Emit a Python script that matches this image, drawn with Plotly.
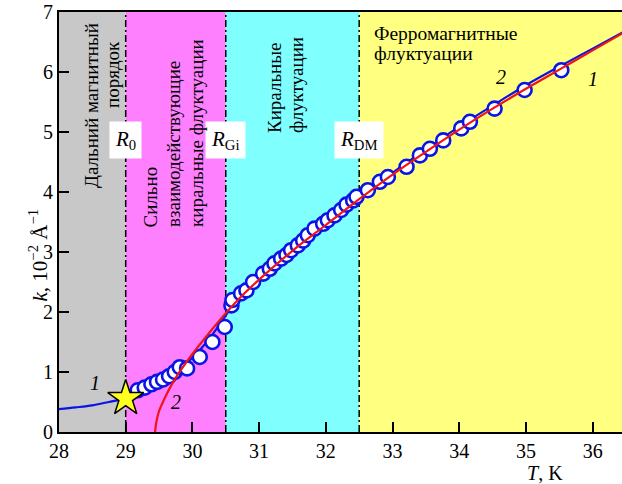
import plotly.graph_objects as go

# ---- data ----
T_points = [29.18, 29.285, 29.385, 29.47, 29.56, 29.65, 29.735, 29.81, 29.92, 30.11, 30.30, 30.485, 30.585,
            30.60, 30.73, 30.81, 30.91, 31.06, 31.16, 31.23, 31.33, 31.41, 31.48, 31.58, 31.66, 31.73, 31.83,
            31.96, 32.03, 32.13, 32.23, 32.31, 32.41, 32.46, 32.63, 32.81, 32.93, 33.21, 33.41, 33.56,
            33.76, 34.03, 34.16, 34.53, 34.98, 35.53]
k_points = [0.695, 0.74, 0.795, 0.835, 0.875, 0.93, 1.0, 1.08, 1.06, 1.25, 1.5, 1.75, 2.11,
            2.20, 2.31, 2.36, 2.50, 2.64, 2.72, 2.81, 2.89, 2.95, 3.03, 3.11, 3.19, 3.28, 3.39,
            3.47, 3.53, 3.61, 3.70, 3.79, 3.86, 3.92, 4.03, 4.17, 4.25, 4.42, 4.61, 4.72,
            4.86, 5.06, 5.17, 5.39, 5.70, 6.03]

T_fit1 = [28.0, 28.25, 28.5, 28.75, 29.0, 29.2, 29.4, 29.6, 29.8, 30.0, 30.2, 30.4, 30.6, 30.8,
          31.0, 31.5, 32.0, 32.5, 33.0, 33.5, 34.0, 34.5, 35.0, 35.5, 36.0, 36.5]
k_fit1 = [0.38, 0.41, 0.445, 0.50, 0.565, 0.66, 0.78, 0.91, 1.06, 1.24, 1.48, 1.78, 2.10, 2.33,
          2.53, 3.03, 3.47, 3.90, 4.32, 4.71, 5.09, 5.44, 5.78, 6.09, 6.39, 6.69]

T_fit2 = [29.44, 29.46, 29.5, 29.55, 29.6, 29.7, 29.8, 29.9, 30.0, 30.25, 30.5, 30.75, 31.0, 31.5,
          32.0, 32.5, 33.0, 33.5, 34.0, 34.5, 35.0, 35.5, 36.0, 36.5]
k_fit2 = [0.0, 0.17, 0.35, 0.48, 0.60, 0.81, 0.99, 1.15, 1.30, 1.65, 1.98, 2.28, 2.54, 3.02,
          3.45, 3.88, 4.29, 4.67, 5.04, 5.39, 5.72, 6.04, 6.36, 6.68]

star_T = [29.0]
star_k = [0.56]

region_edges = [28.0, 29.0, 30.5, 32.5, 36.6]
region_colors = ["#c8c8c8", "#ff80ff", "#80ffff", "#ffff80"]
boundaries = [29.0, 30.5, 32.5]
boundary_labels = ["<i>R</i><sub>0</sub>", "<i>R</i><sub>Gi</sub>", "<i>R</i><sub>DM</sub>"]

x_ticks = [28, 29, 30, 31, 32, 33, 34, 35, 36]
y_ticks = [0, 1, 2, 3, 4, 5, 6, 7]

FONT = "Liberation Serif"

fig = go.Figure()

fig.add_trace(go.Scatter(x=T_fit1, y=k_fit1, mode="lines", line=dict(color="#0a14e6", width=2.2, shape="spline"),
                         showlegend=False, hoverinfo="skip"))
fig.add_trace(go.Scatter(x=T_points, y=k_points, mode="markers",
                         marker=dict(symbol="circle", size=14, color="white", line=dict(color="#0a14e6", width=2.6)),
                         showlegend=False))
fig.add_trace(go.Scatter(x=T_fit2, y=k_fit2, mode="lines", line=dict(color="#f01414", width=2.2, shape="spline", smoothing=1.0),
                         showlegend=False, hoverinfo="skip"))
fig.add_trace(go.Scatter(x=star_T, y=star_k, mode="markers",
                         marker=dict(symbol="star", size=27, color="#ffff20", line=dict(color="black", width=1.5)),
                         showlegend=False))

shapes = []
for i, c in enumerate(region_colors):
    shapes.append(dict(type="rect", xref="x", yref="y", x0=region_edges[i], x1=region_edges[i + 1],
                       y0=0, y1=7, fillcolor=c, line=dict(width=0), layer="below"))
for b in boundaries:
    shapes.append(dict(type="line", xref="x", yref="y", x0=b, x1=b, y0=0, y1=7,
                       line=dict(color="black", width=1.5, dash="7px,3px,2px,3px"), layer="below"))

ann = []
for b, lab in zip(boundaries, boundary_labels):
    ann.append(dict(x=b, y=4.86, xref="x", yref="y", text=lab, showarrow=False,
                    font=dict(family=FONT, size=21, color="black"), bgcolor="white", borderpad=5))

def px_to_data(x_px, y_px):
    return 28 + (x_px - 59.3) / 66.7, (431.7 - y_px) / 60

def vtext(x_px, y_px, txt, anchor="center"):
    T, k = px_to_data(x_px, y_px)
    yanchor = {"center": "middle", "bottom": "bottom", "top": "top"}[anchor]
    ann.append(dict(x=T, y=k, xref="x", yref="y", text=txt, showarrow=False, textangle=-90,
                    xanchor="center", yanchor=yanchor, font=dict(family=FONT, size=19, color="black")))

vtext(92, 105, "Дальний магнитный")
vtext(113, 74, "порядок")
vtext(151, 229, "Сильно", "bottom")
vtext(174, 229, "взаимодействующие", "bottom")
vtext(197, 229, "киральные флуктуации", "bottom")
vtext(275, 135, "Киральные", "bottom")
vtext(297, 135, "флуктуации", "bottom")

for y_px, txt in [(33, "Ферромагнитные"), (53, "флуктуации")]:
    T, k = px_to_data(372, y_px)
    ann.append(dict(x=T, y=k, xref="x", yref="y", text=txt, showarrow=False,
                    xanchor="left", yanchor="middle", font=dict(family=FONT, size=19.5, color="black")))

for t, k, s in [(28.54, 0.81, "1"), (29.76, 0.5, "2"), (34.63, 5.92, "2"), (36.0, 5.89, "1")]:
    ann.append(dict(x=t, y=k, xref="x", yref="y", text="<i>" + s + "</i>", showarrow=False,
                    font=dict(family=FONT, size=20, color="black")))

ann.append(dict(x=-0.064, y=2.95, xref="paper", yref="y", text="<i>k</i>, 10<sup>−2</sup> Å<sup>−1</sup>",
                showarrow=False, textangle=-90, font=dict(family=FONT, size=21, color="black")))
ann.append(dict(x=35.28, y=-0.097, xref="x", yref="paper", text="<i>T</i>, K", showarrow=False,
                yanchor="middle", font=dict(family=FONT, size=20, color="black")))

fig.update_layout(
    width=622, height=484,
    margin=dict(l=59, r=0, t=12, b=52),
    paper_bgcolor="white", plot_bgcolor="white",
    shapes=shapes, annotations=ann,
    font=dict(family=FONT, size=20, color="black"),
    xaxis=dict(range=[28, 36.44], tickvals=x_ticks, ticks="inside", ticklen=10, tickwidth=1.5, tickcolor="black",
               showline=True, linecolor="black", linewidth=2, mirror=True, showgrid=False, zeroline=False,
               tickfont=dict(family=FONT, size=20)),
    yaxis=dict(range=[0, 7], tickvals=y_ticks, ticks="inside", ticklen=10, tickwidth=1.5, tickcolor="black",
               showline=True, linecolor="black", linewidth=2, showgrid=False, zeroline=False,
               tickfont=dict(family=FONT, size=20)),
)

fig.write_html("out.html")
